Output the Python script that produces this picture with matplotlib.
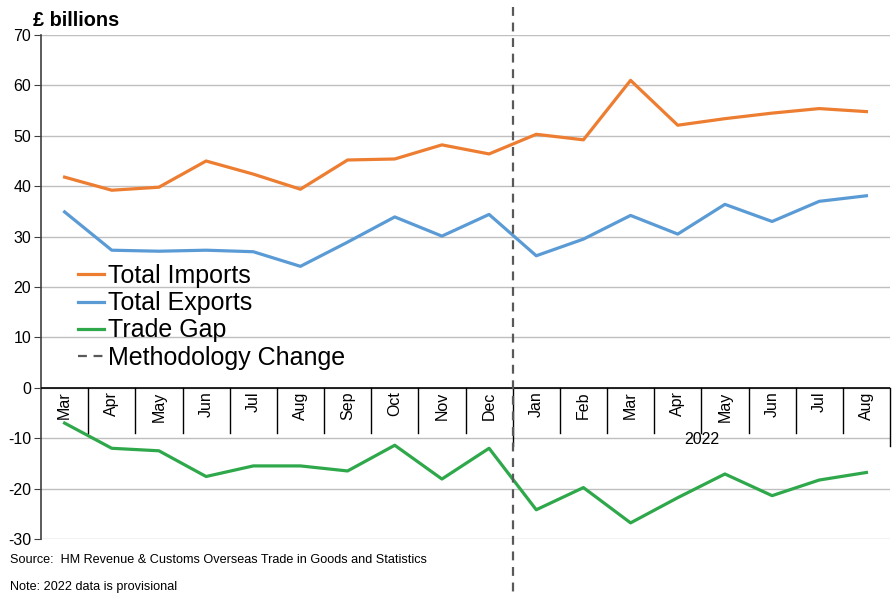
import matplotlib
matplotlib.use("Agg")
import matplotlib.pyplot as plt
from matplotlib.transforms import blended_transform_factory

plt.rcParams['font.family'] = ['Liberation Sans', 'DejaVu Sans']

months = ["Mar", "Apr", "May", "Jun", "Jul", "Aug", "Sep", "Oct", "Nov", "Dec",
          "Jan", "Feb", "Mar", "Apr", "May", "Jun", "Jul", "Aug"]
year_label = "2022"
imports = [41.8, 39.2, 39.8, 45.0, 42.4, 39.4, 45.2, 45.4, 48.2, 46.4,
           50.3, 49.2, 61.0, 52.1, 53.4, 54.5, 55.4, 54.8]
exports = [34.9, 27.3, 27.1, 27.3, 27.0, 24.1, 28.9, 33.9, 30.1, 34.4,
           26.2, 29.5, 34.2, 30.5, 36.4, 33.0, 37.0, 38.1]
trade_gap = [-7.0, -12.0, -12.5, -17.6, -15.5, -15.5, -16.5, -11.4, -18.1, -12.0,
             -24.2, -19.8, -26.8, -21.8, -17.1, -21.4, -18.3, -16.8]
yticks = [-30, -20, -10, 0, 10, 20, 30, 40, 50, 60, 70]

fig = plt.figure(figsize=(8.96, 5.94), dpi=100)
ax = fig.add_axes([41/896, 1-539/594, (890-41)/896, (539-35)/594])

x = list(range(len(months)))
c_imp, c_exp, c_gap = '#ED7D31', '#5B9BD5', '#2EA84A'
ax.plot(x, imports, color=c_imp, lw=2.3, label='Total Imports')
ax.plot(x, exports, color=c_exp, lw=2.3, label='Total Exports')
ax.plot(x, trade_gap, color=c_gap, lw=2.3, label='Trade Gap')

ax.set_xlim(-0.5, len(months) - 0.5)
ax.set_ylim(-30, 70)
ax.set_yticks(yticks)
ax.set_yticklabels([str(v) for v in yticks], fontsize=11.5)
ax.set_xticks([])
ax.grid(axis='y', color='#BFBFBF', lw=1)
ax.set_axisbelow(True)
for s in ['top', 'right', 'bottom']:
    ax.spines[s].set_visible(False)
ax.spines['left'].set_color('#404040')
ax.spines['left'].set_linewidth(1.2)
ax.tick_params(axis='y', length=5, color='#404040', pad=2)

# zero axis line
ax.axhline(0, color='black', lw=1.2, zorder=3)

# category labels and separators
split = 10
for i, m in enumerate(months):
    ax.text(i, -0.7, m, rotation=90, ha='center', va='top', fontsize=11.5)
for b in range(1, len(months)):
    low = -11.6 if b == split else -8.9
    ax.plot([b - 0.5, b - 0.5], [0, low], color='black', lw=1, zorder=3)
ax.plot([len(months) - 0.5] * 2, [0, -11.6], color='black', lw=1, zorder=3, clip_on=False)
ax.text((split + len(months) - 1) / 2, -8.7, year_label, ha='center', va='top', fontsize=11.5)

# methodology change dashed line
trans = blended_transform_factory(ax.transData, ax.transAxes)
ax.plot([split - 0.5, split - 0.5], [1.055, -0.11], transform=trans, color='#595959',
        lw=1.6, ls=(0, (4, 3)), clip_on=False, zorder=4, label='Methodology Change')

leg = ax.legend(loc='upper left', bbox_to_anchor=(37/849, (539-264)/504), frameon=False,
                fontsize=18, handlelength=1.05, handletextpad=0.15, labelspacing=0.13,
                borderaxespad=0, borderpad=0)

fig.text(33/896, 1-21/594, '£ billions', fontsize=14.3, fontweight='bold', va='center', ha='left')
fig.text(10/896, 1-560/594, 'Source:  HM Revenue & Customs Overseas Trade in Goods and Statistics',
         fontsize=9.1, va='center')
fig.text(10/896, 1-587/594, 'Note: 2022 data is provisional', fontsize=9.1, va='center')

fig.savefig('out.png', dpi=100)
